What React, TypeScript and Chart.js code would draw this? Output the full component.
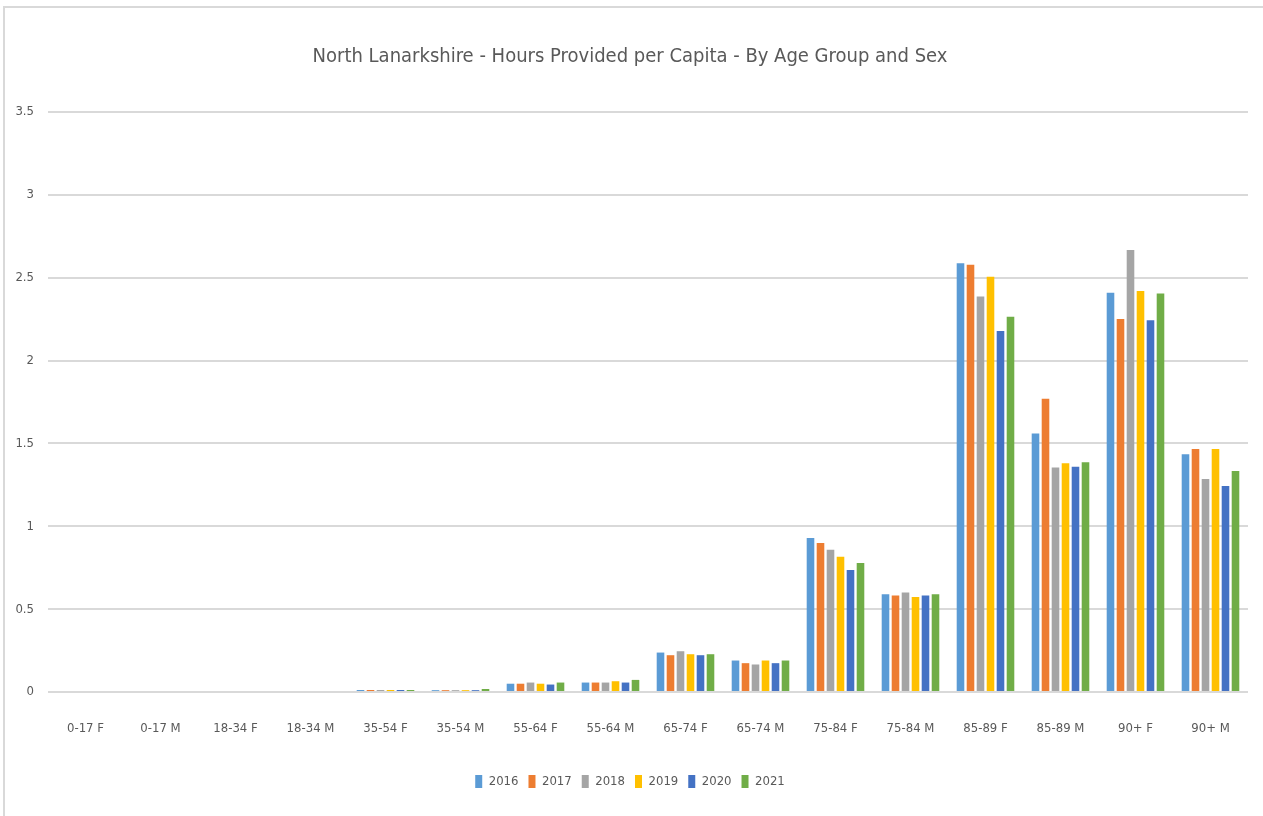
import React, { useEffect, useRef } from "react";
import { Chart, registerables } from "chart.js";

Chart.register(...registerables);

const categories = [
  "0-17 F", "0-17 M", "18-34 F", "18-34 M", "35-54 F", "35-54 M", "55-64 F", "55-64 M",
  "65-74 F", "65-74 M", "75-84 F", "75-84 M", "85-89 F", "85-89 M", "90+ F", "90+ M",
];

const years = ["2016", "2017", "2018", "2019", "2020", "2021"];
const colors = ["#5B9BD5", "#ED7D31", "#A5A5A5", "#FFC000", "#4472C4", "#70AD47"];

const v2016 = [0, 0, 0, 0, 0.012, 0.011, 0.05, 0.057, 0.238, 0.19, 0.929, 0.59, 2.587, 1.56, 2.41, 1.434];
const v2017 = [0, 0, 0, 0, 0.012, 0.011, 0.05, 0.057, 0.222, 0.174, 0.899, 0.583, 2.578, 1.769, 2.251, 1.466];
const v2018 = [0, 0, 0, 0, 0.012, 0.011, 0.057, 0.057, 0.246, 0.166, 0.859, 0.601, 2.386, 1.355, 2.667, 1.285];
const v2019 = [0, 0, 0, 0, 0.012, 0.011, 0.05, 0.065, 0.228, 0.19, 0.816, 0.574, 2.506, 1.38, 2.42, 1.466];
const v2020 = [0, 0, 0, 0, 0.012, 0.011, 0.045, 0.057, 0.222, 0.174, 0.736, 0.583, 2.179, 1.36, 2.243, 1.243];
const v2021 = [0, 0, 0, 0, 0.012, 0.018, 0.057, 0.073, 0.228, 0.19, 0.778, 0.59, 2.265, 1.387, 2.404, 1.333];

const series = [v2016, v2017, v2018, v2019, v2020, v2021];

const titleText = "North Lanarkshire - Hours Provided per Capita - By Age Group and Sex";
const FONT = "'DejaVu Sans Condensed', 'Liberation Sans Narrow', sans-serif";
const TEXT = "#595959";

export default function App() {
  const ref = useRef<HTMLCanvasElement | null>(null);

  useEffect(() => {
    if (!ref.current) return;
    const chart = new Chart(ref.current, {
      type: "bar",
      data: {
        labels: categories,
        datasets: years.map((y, i) => ({
          label: y,
          data: series[i],
          backgroundColor: colors[i],
          borderWidth: 0,
          barPercentage: 0.76,
          categoryPercentage: 0.8,
        })),
      },
      options: {
        animation: false,
        responsive: false,
        maintainAspectRatio: false,
        layout: { padding: { left: 12, right: 15, top: 0, bottom: 18 } },
        plugins: {
          title: {
            display: true,
            text: titleText,
            color: TEXT,
            font: { family: FONT, size: 20, weight: "normal" },
            padding: { top: 45, bottom: 43 },
          },
          legend: {
            position: "bottom",
            labels: {
              color: TEXT,
              font: { family: FONT, size: 13 },
              boxWidth: 7,
              boxHeight: 13,
              padding: 10,
            },
          },
          tooltip: { enabled: false },
        },
        scales: {
          x: {
            grid: { display: false, drawTicks: false },
            border: { display: false },
            ticks: {
              color: TEXT,
              font: { family: FONT, size: 13 },
              padding: 29,
              maxRotation: 0,
              autoSkip: false,
            },
            afterFit: (s: any) => { s.height = 73; },
          },
          y: {
            min: 0,
            max: 3.5,
            grid: { color: "#d9d9d9", lineWidth: 2, drawTicks: false },
            border: { display: false },
            ticks: {
              stepSize: 0.5,
              color: TEXT,
              font: { family: FONT, size: 13 },
              padding: 14,
              callback: (v: any) => String(Number(v)),
            },
            afterFit: (s: any) => { s.width = 36; },
          },
        },
      },
    });
    return () => chart.destroy();
  }, []);

  return (
    <div style={{ position: "fixed", left: 0, top: 0, width: 1263, height: 816, background: "#fff" }}>
      <div
        style={{
          position: "absolute",
          left: 3,
          top: 6,
          right: -2,
          bottom: -2,
          borderLeft: "2px solid #d9d9d9",
          borderTop: "2px solid #d9d9d9",
        }}
      />
      <canvas ref={ref} width={1263} height={816} style={{ position: "absolute", left: 0, top: 0 }} />
    </div>
  );
}
